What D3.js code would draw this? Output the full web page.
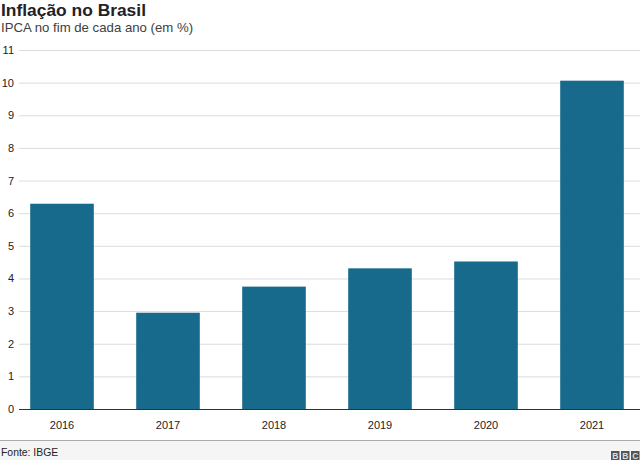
<!DOCTYPE html>
<html><head><meta charset="utf-8">
<script src="https://cdn.jsdelivr.net/npm/d3@7"></script>
<style>body{margin:0;background:#fff}svg{display:block;font-family:"Liberation Sans",Arial,Helvetica,sans-serif}</style>
</head><body>
<svg id="c" width="640" height="460"></svg>
<script>
const categories = ["2016","2017","2018","2019","2020","2021"];
const values = [6.29, 2.95, 3.75, 4.31, 4.52, 10.06];
const yTicks = [0,1,2,3,4,5,6,7,8,9,10,11];
const title = "Inflação no Brasil";
const subtitle = "IPCA no fim de cada ano (em %)";
const source = "Fonte: IBGE";

const svg = d3.select("#c");
const y = d3.scaleLinear().domain([0, 11]).range([409, 50]);
const x = d3.scaleBand().domain(categories).range([9, 645]).paddingInner(0.4).paddingOuter(0.2);

svg.append("text").attr("x", 1).attr("y", 16).attr("font-size", 17.4).attr("font-weight", "bold").attr("fill", "#222").text(title);
svg.append("text").attr("x", 1).attr("y", 32).attr("font-size", 13.2).attr("fill", "#404040").text(subtitle);

// grid
svg.append("g").selectAll("line").data(yTicks.filter(d => d > 0)).join("line")
  .attr("x1", 19).attr("x2", 640).attr("y1", d => y(d) + 0.5).attr("y2", d => y(d) + 0.5)
  .attr("stroke", "#dcdcdc").attr("stroke-width", 1);

// y axis labels
const ya = svg.append("g").attr("transform", "translate(14,0)")
  .call(d3.axisLeft(y).tickValues(yTicks).tickSize(0).tickPadding(0).tickFormat(d3.format("d")));
ya.select(".domain").remove();
ya.selectAll("text").attr("font-size", 11).attr("fill", "#222").attr("font-family", "Liberation Sans, Arial, sans-serif");

// bars
svg.append("g").selectAll("rect").data(values).join("rect")
  .attr("x", (d, i) => x(categories[i])).attr("width", x.bandwidth())
  .attr("y", d => y(d)).attr("height", d => y(0) - y(d))
  .attr("fill", "#176a8c");

// baseline
svg.append("line").attr("x1", 19).attr("x2", 640).attr("y1", y(0) + 0.5).attr("y2", y(0) + 0.5).attr("stroke", "#333").attr("stroke-width", 1.2);

// x axis labels
const xa = svg.append("g").attr("transform", `translate(0,${y(0)})`)
  .call(d3.axisBottom(x).tickSize(0).tickPadding(12));
xa.select(".domain").remove();
xa.selectAll("text").attr("font-size", 11).attr("fill", "#222").attr("font-family", "Liberation Sans, Arial, sans-serif");

// footer
svg.append("rect").attr("x", 0).attr("y", 441).attr("width", 640).attr("height", 19).attr("fill", "#f5f5f5");
svg.append("line").attr("x1", 0).attr("x2", 640).attr("y1", 440.5).attr("y2", 440.5).attr("stroke", "#aaa");
svg.append("text").attr("x", 1).attr("y", 456).attr("font-size", 10.4).attr("fill", "#222").text(source);

// BBC logo
const logo = svg.append("g").attr("transform", "translate(611,451)");
["B","B","C"].forEach((t, i) => {
  logo.append("rect").attr("x", i * 10).attr("y", 0).attr("width", 8.5).attr("height", 9).attr("fill", "#555");
  logo.append("text").attr("x", i * 10 + 4.25).attr("y", 8).attr("text-anchor", "middle").attr("font-size", 8.5).attr("font-weight", "bold").attr("fill", "#ddd").text(t);
});
</script>
</body></html>
